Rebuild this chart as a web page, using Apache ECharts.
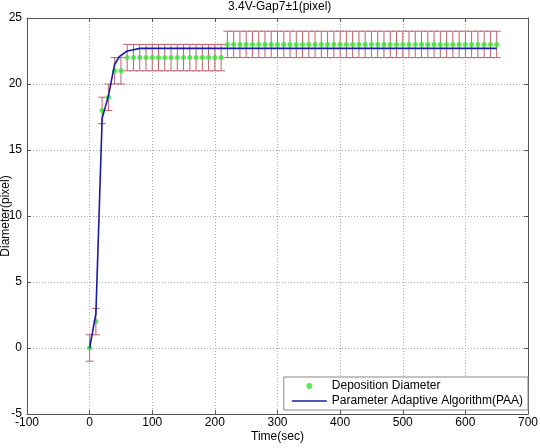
<!DOCTYPE html>
<html>
<head>
<meta charset="utf-8">
<script src="https://cdn.jsdelivr.net/npm/echarts@6/dist/echarts.min.js"></script>
<style>
  html, body { margin: 0; padding: 0; background: #fff; }
  #chart { width: 540px; height: 448px; }
</style>
</head>
<body>
<div id="chart"></div>
<script>
// measured samples (every 10 s)
const times = [0, 10, 20, 30, 40, 50, 60, 70, 80, 90, 100, 110, 120, 130, 140, 150,
  160, 170, 180, 190, 200, 210, 220, 230, 240, 250, 260, 270, 280, 290, 300, 310,
  320, 330, 340, 350, 360, 370, 380, 390, 400, 410, 420, 430, 440, 450, 460, 470,
  480, 490, 500, 510, 520, 530, 540, 550, 560, 570, 580, 590, 600, 610, 620, 630,
  640, 650];
const diameters = [0, 2, 18, 19, 21, 21, 22, 22, 22, 22, 22, 22, 22, 22, 22, 22,
  22, 22, 22, 22, 22, 22, 23, 23, 23, 23, 23, 23, 23, 23, 23, 23,
  23, 23, 23, 23, 23, 23, 23, 23, 23, 23, 23, 23, 23, 23, 23, 23,
  23, 23, 23, 23, 23, 23, 23, 23, 23, 23, 23, 23, 23, 23, 23, 23,
  23, 23];
const errHalf = 1; // ±1 pixel

// PAA curve
const paaTimes = [0, 10, 20, 30, 40, 48, 60, 70, 80, 90, 650];
const paaValues = [0, 2.6, 17.4, 19.1, 21.5, 22.1, 22.5, 22.6, 22.7, 22.7, 22.7];

const xTicks = [-100, 0, 100, 200, 300, 400, 500, 600, 700];
const yTicks = [-5, 0, 5, 10, 15, 20, 25];

const errColor = '#c0606a';
const lineColor = '#1a1aa6';
const font = 'Liberation Sans, Arial, sans-serif';

const pointData = times.map((t, i) => [t, diameters[i]]);
const errData = times.map((t, i) => [t, diameters[i], errHalf]);
const paaData = paaTimes.map((t, i) => [t, paaValues[i]]);

function renderErr(params, api) {
  const x = api.value(0), y = api.value(1), e = api.value(2);
  const top = api.coord([x, y + e]);
  const bot = api.coord([x, y - e]);
  const hw = 4;
  const style = { stroke: errColor, lineWidth: 1 };
  return {
    type: 'group',
    children: [
      { type: 'line', shape: { x1: top[0], y1: top[1], x2: bot[0], y2: bot[1] }, style: style },
      { type: 'line', shape: { x1: top[0] - hw, y1: top[1], x2: top[0] + hw, y2: top[1] }, style: style },
      { type: 'line', shape: { x1: bot[0] - hw, y1: bot[1], x2: bot[0] + hw, y2: bot[1] }, style: style }
    ]
  };
}

const gridLine = { show: true, lineStyle: { color: '#aaa', type: [1, 2], width: 1 } };
const axLine = { show: true, onZero: false, lineStyle: { color: '#555', width: 1 } };
const axTick = { show: true, inside: true, length: 4, lineStyle: { color: '#555' } };

const option = {
  animation: false,
  backgroundColor: '#fff',
  textStyle: { fontFamily: font },
  title: {
    text: '3.4V-Gap7±1(pixel)',
    left: 228,
    top: 1,
    padding: 0,
    textStyle: { fontSize: 12, fontWeight: 'normal', color: '#000', fontFamily: font }
  },
  grid: { left: 27, right: 12, top: 18, bottom: 34, outerBoundsMode: 'none', containLabel: false },
  legend: {
    orient: 'vertical',
    right: 12,
    bottom: 38,
    padding: [3, 5, 3, 8],
    itemGap: 3,
    itemWidth: 35,
    itemHeight: 6,
    backgroundColor: '#fff',
    borderColor: '#888',
    borderWidth: 1,
    borderRadius: 0,
    textStyle: { fontSize: 12, color: '#000', fontFamily: font },
    data: [
      { name: 'Deposition Diameter', icon: 'circle' },
      { name: 'Parameter Adaptive Algorithm(PAA)', icon: 'path://M0,0H35V1.6H0Z' }
    ]
  },
  xAxis: [{
    type: 'value',
    min: -100, max: 700, interval: 100,
    name: 'Time(sec)',
    nameLocation: 'middle',
    nameGap: 17,
    nameMoveOverlap: false,
    nameTextStyle: { fontSize: 12, color: '#000' },
    axisLine: axLine,
    axisTick: axTick,
    splitLine: gridLine,
    axisLabel: {
      fontSize: 12, color: '#000', margin: 3,
      customValues: xTicks
    }
  }, {
    type: 'value',
    position: 'top',
    min: -100, max: 700, interval: 100,
    axisLine: axLine,
    axisTick: axTick,
    axisLabel: { show: false },
    splitLine: { show: false }
  }],
  yAxis: [{
    type: 'value',
    min: -5, max: 25, interval: 5,
    name: 'Diameter(pixel)',
    nameLocation: 'middle',
    nameGap: 15,
    nameMoveOverlap: false,
    nameTextStyle: { fontSize: 12, color: '#000' },
    axisLine: axLine,
    axisTick: axTick,
    splitLine: gridLine,
    axisLabel: {
      fontSize: 12, color: '#000', margin: 5,
      customValues: yTicks
    }
  }, {
    type: 'value',
    position: 'right',
    min: -5, max: 25, interval: 5,
    axisLine: axLine,
    axisTick: axTick,
    axisLabel: { show: false },
    splitLine: { show: false }
  }],
  series: [
    {
      name: 'errorbar',
      type: 'custom',
      renderItem: renderErr,
      encode: { x: 0, y: 1 },
      data: errData,
      z: 2
    },
    {
      name: 'Deposition Diameter',
      type: 'scatter',
      symbol: 'circle',
      symbolSize: 5,
      itemStyle: { color: '#2ee82e' },
      data: pointData,
      z: 3
    },
    {
      name: 'Parameter Adaptive Algorithm(PAA)',
      type: 'line',
      symbol: 'none',
      lineStyle: { color: lineColor, width: 1.6 },
      itemStyle: { color: lineColor },
      data: paaData,
      z: 4
    }
  ]
};

const chart = echarts.init(document.getElementById('chart'));
chart.setOption(option);
</script>
</body>
</html>
